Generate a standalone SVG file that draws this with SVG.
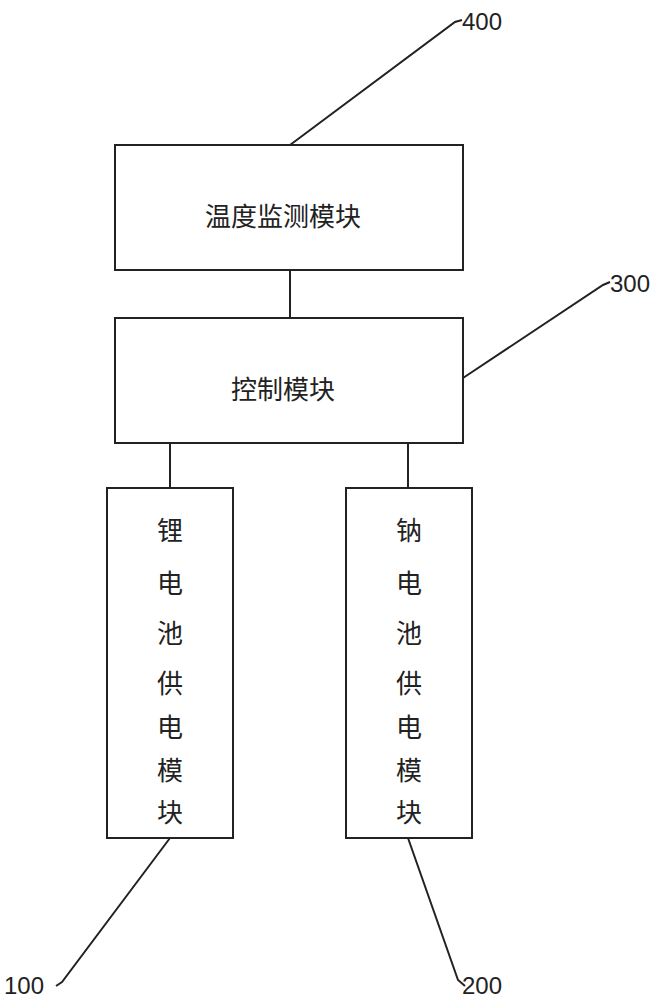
<svg xmlns="http://www.w3.org/2000/svg" width="671" height="1000" viewBox="0 0 671 1000">
<style>
.b{fill:#fff;stroke:#222;stroke-width:2}
.t{font-family:"Noto Sans CJK SC",sans-serif;font-size:26px;fill:#222;text-anchor:middle}
.n{font-family:"Liberation Sans",sans-serif;font-size:24px;fill:#222}
.l{stroke:#222;stroke-width:2;fill:none}
</style>
<rect width="671" height="1000" fill="#fff"/>
<g id="connectors">
<line class="l" x1="290" y1="270" x2="290" y2="318"/>
<line class="l" x1="170" y1="443" x2="170" y2="488"/>
<line class="l" x1="408" y1="443" x2="408" y2="488"/>
<polyline class="l" points="290,145 455,22 462,20"/>
<polyline class="l" points="463,378 603,285 610,282"/>
<polyline class="l" points="170,838 62,982 56,986"/>
<polyline class="l" points="408,838 458,980 465,986"/>
</g>
<g id="n400"><rect class="b" x="115" y="145" width="348" height="125"/><text class="t" x="283" y="226">温度监测模块</text><text class="n" x="462" y="30">400</text></g>
<g id="n300"><rect class="b" x="115" y="318" width="348" height="125"/><text class="t" x="283" y="399">控制模块</text><text class="n" x="610" y="292">300</text></g>
<g id="n100"><rect class="b" x="107" y="488" width="126" height="350"/>
<text class="t" x="170"><tspan x="170" y="540">锂</tspan><tspan x="170" y="593">电</tspan><tspan x="170" y="643">池</tspan><tspan x="170" y="693">供</tspan><tspan x="170" y="737">电</tspan><tspan x="170" y="780">模</tspan><tspan x="170" y="822">块</tspan></text>
<text class="n" x="4" y="994">100</text></g>
<g id="n200"><rect class="b" x="346" y="488" width="126" height="350"/>
<text class="t" x="409"><tspan x="409" y="540">钠</tspan><tspan x="409" y="593">电</tspan><tspan x="409" y="643">池</tspan><tspan x="409" y="693">供</tspan><tspan x="409" y="737">电</tspan><tspan x="409" y="780">模</tspan><tspan x="409" y="822">块</tspan></text>
<text class="n" x="462" y="994">200</text></g>
</svg>
